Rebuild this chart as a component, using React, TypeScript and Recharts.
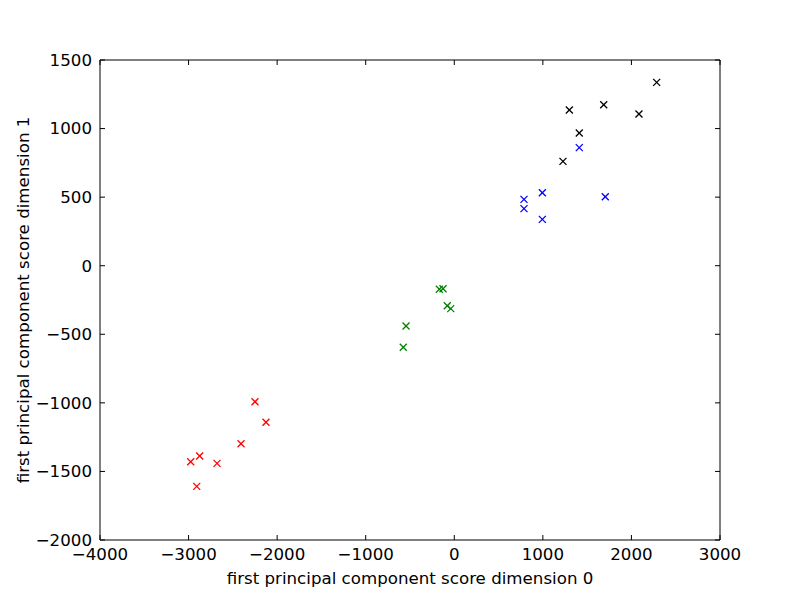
import { ScatterChart, Scatter, XAxis, YAxis, Label } from "recharts";

// group scores (dim0, dim1)
const redX = [-2250, -2126, -2408, -2875, -2976, -2679, -2908];
const redY = [-992, -1142, -1298, -1388, -1429, -1441, -1609];
const greenX = [-169, -127, -79, -40, -545, -576];
const greenY = [-172, -168, -292, -313, -440, -595];
const blueX = [1411, 994, 1705, 787, 787, 994];
const blueY = [861, 532, 503, 484, 416, 338];
const blackX = [2285, 1687, 1299, 2085, 1411, 1227];
const blackY = [1337, 1174, 1135, 1106, 968, 761];

const xTicks = [-4000, -3000, -2000, -1000, 0, 1000, 2000, 3000];
const yTicks = [-2000, -1500, -1000, -500, 0, 500, 1000, 1500];

const toPoints = (xs: number[], ys: number[]) => xs.map((x, i) => ({ x, y: ys[i] }));

const fmt = (v: number) => String(v).replace("-", "\u2212");

const font = "'DejaVu Sans', sans-serif";
const fs = 16.67;

const Cross = (color: string) => (props: any) => {
  const { cx, cy } = props;
  const s = 3.5;
  return (
    <g stroke={color} strokeWidth={1.3}>
      <line x1={cx - s} y1={cy - s} x2={cx + s} y2={cy + s} />
      <line x1={cx - s} y1={cy + s} x2={cx + s} y2={cy - s} />
    </g>
  );
};

const noTick = () => <g />;

export default function App() {
  const tickStyle = { fill: "#000", fontSize: fs, fontFamily: font };
  return (
    <div style={{ position: "absolute", left: 0, top: 0, width: 800, height: 600, background: "#fff" }}>
      <ScatterChart width={800} height={600} margin={{ top: 0, right: 0, bottom: 0, left: 0 }}>
        <XAxis
          xAxisId="b"
          type="number"
          dataKey="x"
          domain={[-4000, 3000]}
          ticks={xTicks}
          allowDataOverflow
          height={60}
          stroke="#000"
          tickSize={-5}
          tickMargin={13}
          tickFormatter={fmt}
          tick={tickStyle}
        >
          <Label
            value="first principal component score dimension 0"
            position="insideBottom"
            offset={16}
            style={{ fill: "#000", fontSize: fs, fontFamily: font }}
          />
        </XAxis>
        <XAxis
          xAxisId="t"
          orientation="top"
          type="number"
          dataKey="x"
          domain={[-4000, 3000]}
          ticks={xTicks}
          allowDataOverflow
          height={60}
          stroke="#000"
          tickSize={-5}
          tick={noTick}
        />
        <YAxis
          yAxisId="l"
          type="number"
          dataKey="y"
          domain={[-2000, 1500]}
          ticks={yTicks}
          allowDataOverflow
          width={100}
          stroke="#000"
          tickSize={-5}
          tickMargin={13}
          tickFormatter={fmt}
          tick={tickStyle}
        >
          <Label
            content={({ viewBox }: any) => {
              const x = viewBox.x + 23;
              const y = viewBox.y + viewBox.height / 2;
              return (
                <text
                  x={x}
                  y={y}
                  transform={`rotate(-90 ${x} ${y})`}
                  textAnchor="middle"
                  dominantBaseline="central"
                  fill="#000"
                  fontSize={fs}
                  fontFamily={font}
                >
                  first principal component score dimension 1
                </text>
              );
            }}
          />
        </YAxis>
        <YAxis
          yAxisId="r"
          orientation="right"
          type="number"
          dataKey="y"
          domain={[-2000, 1500]}
          ticks={yTicks}
          allowDataOverflow
          width={80}
          stroke="#000"
          tickSize={-5}
          tick={noTick}
        />
        <Scatter xAxisId="b" yAxisId="l" data={toPoints(redX, redY)} shape={Cross("#ff0000")} isAnimationActive={false} />
        <Scatter xAxisId="b" yAxisId="l" data={toPoints(greenX, greenY)} shape={Cross("#008000")} isAnimationActive={false} />
        <Scatter xAxisId="b" yAxisId="l" data={toPoints(blueX, blueY)} shape={Cross("#0000ff")} isAnimationActive={false} />
        <Scatter xAxisId="b" yAxisId="l" data={toPoints(blackX, blackY)} shape={Cross("#000000")} isAnimationActive={false} />
      </ScatterChart>
    </div>
  );
}
